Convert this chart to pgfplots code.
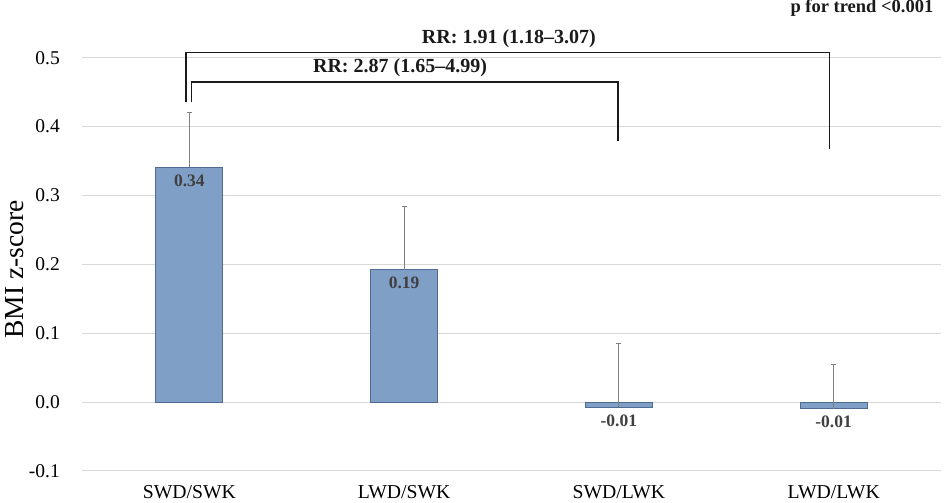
\documentclass[border=0pt]{standalone}
\usepackage{pgfplots}
\pgfplotsset{compat=1.18}
\usepackage{pgfplotstable}
\usepackage{fontspec}
\setmainfont{Liberation Serif}
\definecolor{barfill}{HTML}{7F9FC6}
\definecolor{baredge}{HTML}{4F6B92}
\definecolor{gridc}{HTML}{D9D9D9}
\definecolor{lab}{HTML}{404040}
\definecolor{ann}{HTML}{1A1A1A}
\pgfplotstableread{
x y err lab
0 0.341 0.080 0.34
1 0.1925 0.091 0.19
2 -0.0073 0.092 -0.01
3 -0.0098 0.065 -0.01
}\datatab
\begin{document}
\begin{tikzpicture}
\useasboundingbox (-82pt,-32pt) rectangle (866pt,471pt);
\begin{axis}[
 at={(0pt,0pt)}, anchor=south west,
 width=859pt, height=413.3pt, scale only axis,
 xmin=-0.5, xmax=3.5, ymin=-0.1, ymax=0.5,
 clip=false,
 axis line style={draw=none},
 major tick length=0pt,
 xtick={0,1,2,3}, xticklabels={SWD/SWK,LWD/SWK,SWD/LWK,LWD/LWK},
 ytick={-0.1,0,0.1,0.2,0.3,0.4,0.5},
 yticklabels={-0.1,0.0,0.1,0.2,0.3,0.4,0.5},
 ymajorgrids, grid style={gridc, line width=1pt},
 xticklabel style={font=\fontsize{19.7}{22}\selectfont, anchor=north, inner sep=0pt, yshift=-14pt},
 yticklabel style={font=\fontsize{19.5}{22}\selectfont, anchor=east, inner sep=0pt, xshift=-22pt},
 ylabel={BMI z-score},
 ylabel style={at={(axis description cs:-0.078,0.4875)}, anchor=center, font=\fontsize{27.5}{30}\selectfont},
]
\addplot[ybar, bar width=0.312, bar shift=0pt, fill=barfill, draw=baredge, line width=0.8pt,
  point meta=explicit symbolic,
  nodes near coords={\pgfplotspointmeta},
  nodes near coords style={anchor=north, font=\bfseries\fontsize{17.5}{20}\selectfont, text=lab, inner sep=7pt},
  error bars/.cd, y dir=plus, y explicit,
  error mark=|,
  error bar style={color=gray, line width=1pt},
  error mark options={gray, line width=1pt, mark size=2.5pt}]
  table[x=x, y=y, y error=err, meta=lab] {\datatab};
\draw[ann, line width=1.6pt] (axis cs:-0.015,0.435) |- (axis cs:2.98,0.5074) -- (axis cs:2.98,0.367);
\draw[ann, line width=1.6pt] (axis cs:0.009,0.435) |- (axis cs:1.997,0.4648) -- (axis cs:1.997,0.379);
\node[anchor=base, inner sep=0pt, font=\bfseries\fontsize{20}{22}\selectfont, text=ann] at (axis cs:1.488,0.520) {RR: 1.91 (1.18–3.07)};
\node[anchor=base, inner sep=0pt, font=\bfseries\fontsize{20}{22}\selectfont, text=ann] at (axis cs:0.981,0.478) {RR: 2.87 (1.65–4.99)};
\node[anchor=base east, inner sep=0pt, font=\bfseries\fontsize{18.5}{21}\selectfont, text=ann] at (axis cs:3.465,0.565) {p for trend <0.001};
\end{axis}
\end{tikzpicture}
\end{document}
